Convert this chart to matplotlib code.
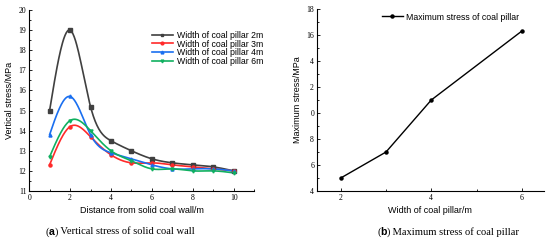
"""Two-panel figure: vertical stress of the solid coal wall (a) and the
maximum stress of the coal pillar against pillar width (b)."""

import matplotlib
matplotlib.use("Agg")
import matplotlib.pyplot as plt
import numpy as np
from matplotlib.ticker import MultipleLocator, FixedLocator, FixedFormatter

# ---- data -----------------------------------------------------------------
distance = [1, 2, 3, 4, 5, 6, 7, 8, 9, 10]
stress_2m = [15.0, 19.0, 15.2, 13.5, 13.0, 12.6, 12.4, 12.3, 12.2, 12.0]
stress_3m = [12.3, 14.2, 13.7, 12.8, 12.4, 12.4, 12.3, 12.2, 12.1, 12.0]
stress_4m = [13.8, 15.7, 13.8, 12.9, 12.6, 12.3, 12.1, 12.1, 12.1, 12.0]
stress_6m = [12.7, 14.5, 14.0, 13.0, 12.5, 12.1, 12.1, 12.0, 12.0, 11.9]
series_labels = ["Width of coal pillar 2m", "Width of coal pillar 3m",
                 "Width of coal pillar 4m", "Width of coal pillar 6m"]

pillar_width = [2, 3, 4, 6]
max_stress = [5.0, 7.0, 11.0, 16.3]
# tick labels as printed in the source figure (leading digits clipped)
max_ytick_values = [4, 6, 8, 10, 12, 14, 16, 18]
max_ytick_labels = ["4", "6", "8", "0", "2", "4", "16", "18"]

SANS = "Liberation Sans"
SERIF = "Liberation Serif"


def natural_spline(x, y, n=300):
    """Natural cubic spline through (x, y), like Origin's spline connect."""
    x = np.asarray(x, float)
    y = np.asarray(y, float)
    k = len(x)
    h = np.diff(x)
    A = np.zeros((k, k))
    b = np.zeros(k)
    A[0, 0] = A[-1, -1] = 1
    for i in range(1, k - 1):
        A[i, i - 1] = h[i - 1]
        A[i, i] = 2 * (h[i - 1] + h[i])
        A[i, i + 1] = h[i]
        b[i] = 6 * ((y[i + 1] - y[i]) / h[i] - (y[i] - y[i - 1]) / h[i - 1])
    M = np.linalg.solve(A, b)
    xs = np.linspace(x[0], x[-1], n)
    idx = np.clip(np.searchsorted(x, xs) - 1, 0, k - 2)
    x0, x1 = x[idx], x[idx + 1]
    hh = x1 - x0
    t0, t1 = x1 - xs, xs - x0
    ys = (M[idx] * t0**3 + M[idx + 1] * t1**3) / (6 * hh) \
        + (y[idx] / hh - M[idx] * hh / 6) * t0 \
        + (y[idx + 1] / hh - M[idx + 1] * hh / 6) * t1
    return xs, ys


def style_axes(ax):
    for side in ("top", "right"):
        ax.spines[side].set_visible(False)
    for side in ("left", "bottom"):
        ax.spines[side].set_linewidth(0.8)
    ax.tick_params(which="both", direction="in", width=0.6,
                   labelsize=5.6, pad=2)
    ax.tick_params(which="major", length=2.5)
    ax.tick_params(which="minor", length=1.5)
    for lab in ax.get_xticklabels() + ax.get_yticklabels():
        lab.set_fontfamily(SERIF)


def caption(fig, xc, y, letter, rest, size=7.6):
    """'(x) text' with a bold sans letter, centred at xc (figure fraction)."""
    r = fig.canvas.get_renderer()
    parts = [("(", SERIF, "normal"), (letter, SANS, "bold"),
             (")", SERIF, "normal"), (" " + rest, SERIF, "normal")]
    texts = [fig.text(0, y, s, family=f, weight=w, fontsize=size,
                      va="center") for s, f, w in parts]
    widths = [t.get_window_extent(r).width / fig.bbox.width for t in texts]
    x = xc - sum(widths) / 2
    for t, w in zip(texts, widths):
        t.set_x(x)
        x += w


fig = plt.figure(figsize=(5.5, 2.5), dpi=100)

# ---- (a) ------------------------------------------------------------------
ax1 = fig.add_axes([0.053, 0.236, 0.409, 0.724])
colors = ["#404040", "#ff2a2a", "#1a6ff0", "#10b060"]
markers = ["s", "o", "^", "v"]
for ys, c, m, lab in zip([stress_2m, stress_3m, stress_4m, stress_6m],
                         colors, markers, series_labels):
    xs, sm = natural_spline(distance, ys)
    ax1.plot(xs, sm, color=c, lw=1.2, zorder=2)
    ax1.plot(distance, ys, ls="none", marker=m, ms=2.2, color=c, zorder=3)
    ax1.plot([], [], color=c, lw=1.2, marker=m, ms=2.0, label=lab)

ax1.set_xlim(0, 11)
ax1.set_ylim(11, 20)
ax1.xaxis.set_major_locator(FixedLocator([0, 2, 4, 6, 8, 10]))
ax1.xaxis.set_minor_locator(FixedLocator([1, 3, 5, 7, 9, 11]))
ax1.yaxis.set_major_locator(MultipleLocator(1))
ax1.yaxis.set_minor_locator(MultipleLocator(0.5))
ax1.set_xlabel("Distance from solid coal wall/m", fontsize=6.5, family=SANS,
               labelpad=3)
ax1.set_ylabel("Vertical stress/MPa", fontsize=6.5, family=SANS, labelpad=3)
style_axes(ax1)
ax1.legend(loc="upper left", bbox_to_anchor=(0.53, 0.905), frameon=False,
           prop={"family": SANS, "size": 6.3}, handlelength=2.4,
           handletextpad=0.5, labelspacing=-0.02, borderaxespad=0)

# ---- (b) ------------------------------------------------------------------
ax2 = fig.add_axes([0.576, 0.236, 0.413, 0.728])
ax2.plot(pillar_width, max_stress, color="black", lw=1.0, marker="o",
         ms=2.2, label="Maximum stress of coal pillar")
ax2.set_xlim(1.47, 6.49)
ax2.set_ylim(4, 18)
ax2.xaxis.set_major_locator(FixedLocator([2, 4, 6]))
ax2.xaxis.set_minor_locator(FixedLocator([3, 5]))
ax2.yaxis.set_major_locator(FixedLocator(max_ytick_values))
ax2.yaxis.set_major_formatter(FixedFormatter(max_ytick_labels))
ax2.yaxis.set_minor_locator(MultipleLocator(1))
ax2.set_xlabel("Width of coal pillar/m", fontsize=6.5, family=SANS,
               labelpad=3)
ax2.set_ylabel("Maximum stress/MPa", fontsize=6.5, family=SANS, labelpad=3)
style_axes(ax2)
ax2.legend(loc="upper left", bbox_to_anchor=(0.27, 1.0), frameon=False,
           prop={"family": SANS, "size": 6.3}, handlelength=2.4,
           handletextpad=0.4, borderaxespad=0)

# ---- captions ---------------------------------------------------------------
caption(fig, 0.218, 0.072, "a", "Vertical stress of solid coal wall")
caption(fig, 0.815, 0.072, "b", "Maximum stress of coal pillar")

fig.savefig("out.png", dpi=100)
